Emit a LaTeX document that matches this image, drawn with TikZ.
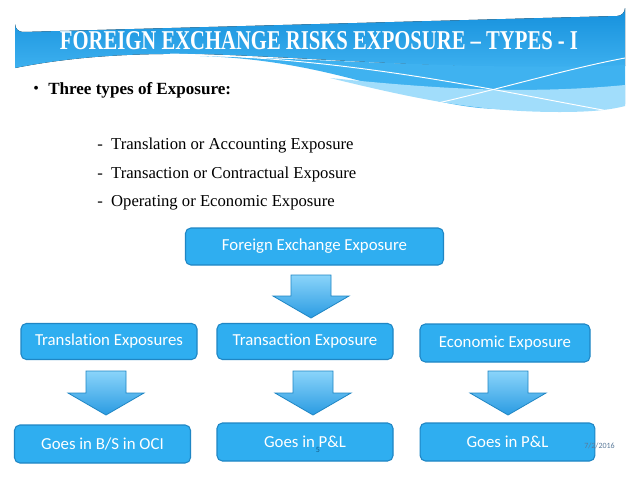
\documentclass[tikz,border=0pt]{standalone}
\usepackage{fontspec}
\setmainfont{Liberation Serif}
\newfontfamily\boxfont[Ligatures=NoCommon]{Carlito}
\usetikzlibrary{shapes.geometric}
\definecolor{boxfill}{HTML}{2FAEF0}
\definecolor{boxedge}{HTML}{1F86C4}
\definecolor{hdrtop}{HTML}{1590DC}
\definecolor{hdrbot}{HTML}{3FB2F0}
\definecolor{arrtop}{HTML}{8AD4FA}
\definecolor{arrbot}{HTML}{2A9BE2}
\definecolor{datecol}{HTML}{5A7A9A}
\tikzset{
  bx/.style={draw=boxedge, line width=0.8pt, fill=boxfill, rounded corners=4pt,
    text=white, font=\boxfont\fontsize{12.6}{14}\selectfont, inner sep=0pt},
  downarrow/.style={draw=boxedge, line width=0.6pt, top color=arrtop, bottom color=arrbot, line join=miter},
  listtxt/.style={anchor=west, font=\fontsize{12.5}{14}\selectfont, inner sep=0pt}
}
\newcommand{\myarrow}[4]{% cx, top, headstart, tip
  \path[downarrow] (#1-20,#2) -- (#1+20,#2) -- (#1+20,#3) -- (#1+38,#3) -- (#1,#4) -- (#1-38,#3) -- (#1-20,#3) -- cycle;}
\begin{document}
\begin{tikzpicture}[x={(0.75pt,0)}, y={(0,-0.75pt)}]
\useasboundingbox (0,0) rectangle (638,479);
\fill[white] (0,0) rectangle (638,479);
% header
\fill[top color=hdrtop, bottom color=hdrbot]
  (15,68) -- (15,24) arc[start angle=180, end angle=90, radius=8] -- (617,16)
  arc[start angle=90, end angle=0, radius=8] -- (625,66)
  .. controls (500,72) and (350,60) .. (230,55)
  .. controls (150,52) and (80,55) .. (15,68) -- cycle;
\fill[color=hdrbot] (200,56) .. controls (330,60) and (400,100) .. (480,108)
  .. controls (550,113) and (600,110) .. (625,104) -- (625,65)
  .. controls (500,71) and (350,60) .. (200,56) -- cycle;
\fill[color=arrtop!80!white] (330,78) .. controls (420,100) and (480,112) .. (560,112)
  .. controls (590,112) and (610,110) .. (625,106) -- (625,85)
  .. controls (520,95) and (430,88) .. (330,78) -- cycle;
\draw[white, line width=0.7pt] (170,54) .. controls (360,58) and (500,92) .. (625,114);
\draw[white, line width=0.7pt] (395,112) .. controls (470,98) and (560,70) .. (625,58);
\node[text=white, inner sep=0pt] (title) at (319,41)
  {\resizebox{388.5pt}{13.5pt}{\bfseries FOREIGN EXCHANGE RISKS EXPOSURE – TYPES - I}};
% bullets
\node[anchor=west, inner sep=0pt, font=\fontsize{12}{14}\selectfont] (bul) at (33,90) {\textbullet};
\node[anchor=west, inner sep=0pt, font=\bfseries\fontsize{12.8}{14}\selectfont] (head) at (48,90) {Three types of Exposure:};
\node[listtxt] (l1) at (97,146) {-\ \ Translation or Accounting Exposure};
\node[listtxt] (l2) at (97,174) {-\ \ Transaction or Contractual Exposure};
\node[listtxt] (l3) at (97,203) {-\ \ Operating or Economic Exposure};
% boxes
\node[bx, minimum width=193.5pt, minimum height=27.75pt] (fee) at (314.5,246.5) {Foreign Exchange Exposure};
\node[bx, minimum width=132pt, minimum height=27pt] (tre) at (109,341.5) {Translation Exposures};
\node[bx, minimum width=132pt, minimum height=27pt] (tra) at (305,341.5) {Transaction Exposure};
\node[bx, minimum width=127.5pt, minimum height=28.5pt] (eco) at (505,343) {Economic Exposure};
\node[bx, minimum width=132pt, minimum height=28.5pt] (g1) at (102.5,444) {Goes in B/S in OCI};
\node[bx, minimum width=132pt, minimum height=28.5pt] (g2) at (305,442) {Goes in P\&L};
\node[bx, minimum width=131pt, minimum height=28.5pt] (g3) at (507.5,442) {Goes in P\&L};
% date
\node[text=datecol, font=\boxfont\fontsize{6}{7}\selectfont, anchor=west, inner sep=0pt] (date) at (584,446) {7/2/2016};
% arrows
\myarrow{311}{275}{296}{318}
\myarrow{106}{371}{393}{415}
\myarrow{313}{371}{393}{415}
\myarrow{508}{371}{393}{415}
% page number
\node[text=boxedge!70!black, font=\boxfont\fontsize{6}{7}\selectfont, inner sep=0pt] (pg) at (318,450) {5};
\end{tikzpicture}
\end{document}
